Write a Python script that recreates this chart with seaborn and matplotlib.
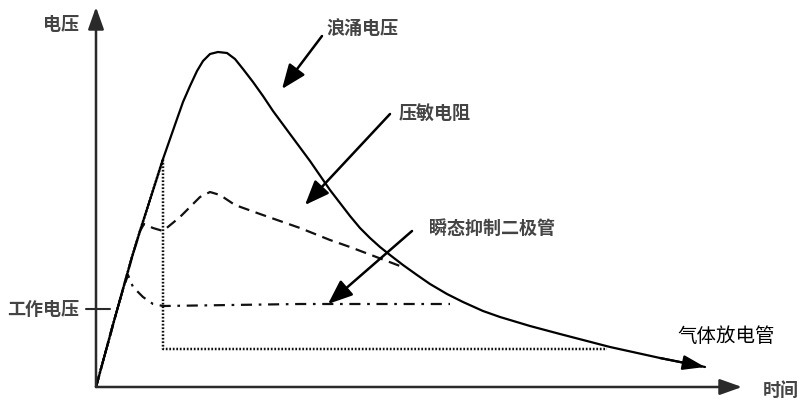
import matplotlib
matplotlib.use("Agg")
import matplotlib.pyplot as plt
import seaborn as sns
import pandas as pd

sns.set_theme(style="white")
plt.rcParams['font.family'] = ['Noto Sans CJK SC', 'DejaVu Sans']

# ---- data (time, voltage) in schematic units ----
surge_t = [0, 9, 18, 27, 36, 44, 52, 60, 67, 74, 81, 87, 94, 101, 107, 114, 122, 131,
           139, 147, 157, 167, 177, 194, 214, 234, 244, 254, 264, 274, 284, 294, 307, 321,
           334, 351, 367, 387, 404, 434, 464, 514, 564, 609]
surge_v = [0, 33, 66, 98, 130, 156, 181, 206, 228, 248, 268, 285, 301, 316, 326, 333, 335, 334,
           328, 318, 305, 291, 276, 253, 226, 197, 184, 171, 159, 149, 140, 132, 122, 112,
           103, 93, 85, 76, 70, 61, 53, 40, 29, 20]

varistor_t = [0, 9, 18, 27, 36, 44, 48, 57, 67, 84, 104, 114, 124, 139, 164, 204, 234, 254, 304]
varistor_v = [0, 33, 66, 98, 130, 156, 163, 159, 156, 170, 190, 195, 192, 182, 173, 159, 147, 140, 121]

tvs_t = [0, 9, 18, 27, 32, 37, 47, 57, 67, 204, 354]
tvs_v = [0, 33, 66, 98, 112, 100, 90, 83, 81, 83, 83]

gdt_t = [0, 9, 18, 27, 36, 44, 52, 60, 67, 67, 511]
gdt_v = [0, 33, 66, 98, 130, 156, 181, 206, 228, 38, 38]

working_voltage = 78

labels = {
    "y": "电压", "x": "时间", "work": "工作电压",
    "surge": "浪涌电压", "varistor": "压敏电阻",
    "tvs": "瞬态抑制二极管", "gdt": "气体放电管",
}

fig = plt.figure(figsize=(8.04, 4.10), dpi=100)
ax = fig.add_axes([0, 0, 1, 1])
ax.set_xlim(-96, 708)
ax.set_ylim(-22, 388)
ax.axis("off")

axis_col = "#2a2a2a"
txt_col = "#444444"

# axes arrows
ax.annotate("", xy=(0, 380), xytext=(0, 0),
            arrowprops=dict(arrowstyle="-|>,head_length=0.45,head_width=0.16", mutation_scale=30,
                            lw=1.8, color=axis_col, shrinkA=0, shrinkB=0))
ax.annotate("", xy=(646, 0), xytext=(0, 0),
            arrowprops=dict(arrowstyle="-|>,head_length=0.45,head_width=0.16", mutation_scale=30,
                            lw=1.8, color=axis_col, shrinkA=0, shrinkB=0))

# working voltage tick
ax.plot([-10, 14], [working_voltage, working_voltage], color=axis_col, lw=1.5)

# curves
gdt = pd.DataFrame({"t": gdt_t, "v": gdt_v})
sns.lineplot(data=gdt, x="t", y="v", sort=False, estimator=None, ax=ax,
             color="#111", lw=1.8, linestyle=(0, (0.7, 0.7)))
tvs = pd.DataFrame({"t": tvs_t, "v": tvs_v})
sns.lineplot(data=tvs, x="t", y="v", sort=False, estimator=None, ax=ax,
             color="#111", lw=1.6, linestyle=(0, (5, 3, 1.2, 3)))
var = pd.DataFrame({"t": varistor_t, "v": varistor_v})
sns.lineplot(data=var, x="t", y="v", sort=False, estimator=None, ax=ax,
             color="#111", lw=1.6, linestyle=(0, (5, 3)))
surge = pd.DataFrame({"t": surge_t, "v": surge_v})
sns.lineplot(data=surge, x="t", y="v", sort=False, estimator=None, ax=ax,
             color="#000", lw=1.6)
# arrow head on surge end
ax.annotate("", xy=(surge_t[-1], surge_v[-1]), xytext=(surge_t[-2], surge_v[-2]),
            arrowprops=dict(arrowstyle="-|>,head_length=0.45,head_width=0.15", mutation_scale=30,
                            lw=1.6, color="#000", shrinkA=0, shrinkB=0))

# label arrows
arrow_kw = dict(arrowstyle="-|>,head_length=0.5,head_width=0.2", mutation_scale=30,
                lw=1.8, color="#000", shrinkA=0, shrinkB=0)
ax.annotate("", xy=(186, 298), xytext=(226, 351), arrowprops=arrow_kw)
ax.annotate("", xy=(209, 182), xytext=(294, 273), arrowprops=arrow_kw)
ax.annotate("", xy=(232, 83), xytext=(316, 156), arrowprops=arrow_kw)

# texts
fs = 13
tk = dict(ha="center", va="center", fontsize=fs, color=txt_col, fontweight="bold")
ax.text(-35, 364, labels["y"], **tk)
ax.text(685, -2, labels["x"], **tk)
ax.text(-53, working_voltage, labels["work"], **tk)
ax.text(267, 360, labels["surge"], **tk)
ax.text(339, 275, labels["varistor"], **tk)
ax.text(396, 160, labels["tvs"], **tk)
ax.text(630, 51, labels["gdt"], ha="center", va="center", fontsize=14, color="#000")

fig.savefig("out.png", dpi=100)
